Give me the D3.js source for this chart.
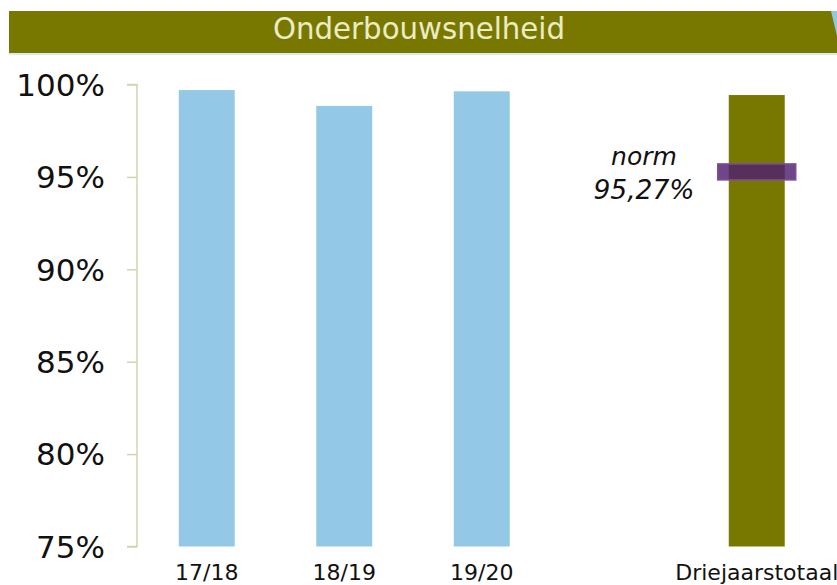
<!DOCTYPE html>
<html>
<head>
<meta charset="utf-8">
<script src="https://cdn.jsdelivr.net/npm/d3@7"></script>
<style>
html,body{margin:0;padding:0;background:#fff;}
svg{display:block;}
</style>
</head>
<body>
<svg id="chart" width="837" height="585"></svg>
<script>
const title = "Onderbouwsnelheid";
const categories = ["17/18", "18/19", "19/20", "", "Driejaarstotaal"];
const values = [99.70, 98.84, 99.63, null, 99.43];
const totalCategory = "Driejaarstotaal";
const yTicks = [75, 80, 85, 90, 95, 100];
const yTickLabels = ["75%", "80%", "85%", "90%", "95%", "100%"];
const normValue = 95.27;
const normLabel = ["norm", "95,27%"];

const svg = d3.select("#chart");
const font = "'DejaVu Sans', Verdana, sans-serif";

// title banner
svg.append("rect").attr("x", 9).attr("y", 11).attr("width", 828).attr("height", 42).attr("fill", "#787800");
svg.append("rect").attr("x", 9).attr("y", 53).attr("width", 828).attr("height", 2).attr("fill", "#d6ecef");
svg.append("polygon").attr("points", "831,11 837,11 837,36").attr("fill", "#8fc9e3");
svg.append("text").attr("x", 419).attr("y", 38.5).attr("text-anchor", "middle")
  .attr("font-family", "'DejaVu Sans Condensed', 'DejaVu Sans', sans-serif")
  .attr("font-size", 31).attr("fill", "#ececc4")
  .attr("textLength", 292).attr("lengthAdjust", "spacingAndGlyphs")
  .text(title);

const y = d3.scaleLinear().domain([75, 100]).range([546.5, 84.5]);
const x = d3.scaleBand().domain(categories).range([138, 825.5]).paddingInner(0.593).paddingOuter(0.2965);

// y axis
const yAxis = d3.axisLeft(y).tickValues(yTicks).tickSize(10).tickPadding(22)
  .tickFormat((d, i) => yTickLabels[i]);
const gy = svg.append("g").attr("transform", "translate(137,0)").call(yAxis);
gy.select(".domain").attr("stroke", "#d4d4ae").attr("stroke-width", 1.5).attr("d", "M-10,84.5H0V546.5H-10");
gy.selectAll(".tick line").attr("stroke", "#d4d4ae").attr("stroke-width", 1.5);
gy.selectAll(".tick text").attr("font-family", font).attr("font-size", 31).attr("fill", "#111").attr("dy", "0.35em");

// bars
svg.append("g").selectAll("rect").data(categories.map((c, i) => ({c, v: values[i]})).filter(d => d.v != null))
  .join("rect")
  .attr("x", d => x(d.c))
  .attr("width", x.bandwidth())
  .attr("y", d => y(d.v))
  .attr("height", d => y(75) - y(d.v))
  .attr("fill", d => d.c === totalCategory ? "#787800" : "#93c9e6");

// x axis labels
const xAxis = d3.axisBottom(x).tickSize(0).tickPadding(0);
const gx = svg.append("g").attr("transform", "translate(0,546.5)").call(xAxis);
gx.select(".domain").remove();
gx.selectAll(".tick text").attr("font-family", font).attr("font-size", 22).attr("fill", "#111")
  .attr("dy", "1.5em");

// norm marker
const nx = x(totalCategory);
svg.append("rect")
  .attr("x", nx - 11).attr("width", x.bandwidth() + 22)
  .attr("y", y(normValue) - 8).attr("height", 16)
  .attr("fill", "#4e1f6e").attr("fill-opacity", 0.82)
  .attr("stroke", "#7a5096").attr("stroke-width", 1.5);

const nl = svg.append("g").attr("font-family", font).attr("font-size", 25).attr("font-style", "italic")
  .attr("fill", "#111").attr("text-anchor", "middle");
nl.append("text").attr("x", 644).attr("y", y(normValue) - 7).text(normLabel[0]);
nl.append("text").attr("x", 644).attr("y", y(normValue) + 27).attr("font-size", 26.5).text(normLabel[1]);
</script>
</body>
</html>
